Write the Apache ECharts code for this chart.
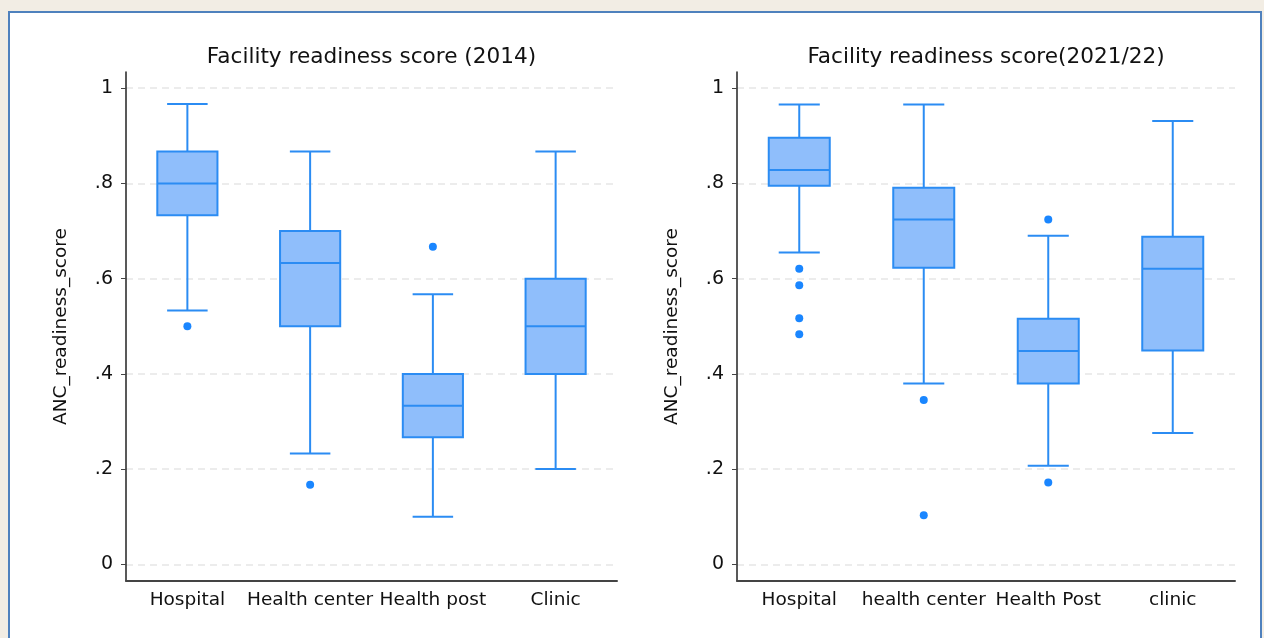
<!DOCTYPE html>
<html><head><meta charset="utf-8">
<script src="https://cdn.jsdelivr.net/npm/echarts@6/dist/echarts.min.js"></script>
<style>
html,body{margin:0;padding:0;width:1264px;height:638px;overflow:hidden;background:#f2ede4;}
#frame{position:absolute;left:8px;top:11px;width:1254px;height:640px;background:#fff;border:2px solid #4f81bd;box-sizing:border-box;}
#chart{position:absolute;left:0;top:0;width:1264px;height:638px;}
</style></head><body>
<div id="frame"></div><div id="chart"></div>
<script>
const categories2014 = ['Hospital', 'Health center', 'Health post', 'Clinic'];
const categories2021 = ['Hospital', 'health center', 'Health Post', 'clinic'];
// each row: [lower whisker, Q1, median, Q3, upper whisker]
const box2014 = [
  [0.533, 0.733, 0.800, 0.867, 0.967],
  [0.233, 0.500, 0.633, 0.700, 0.867],
  [0.100, 0.267, 0.333, 0.400, 0.567],
  [0.200, 0.400, 0.500, 0.600, 0.867]
];
const outliers2014 = [[0, 0.500], [1, 0.167], [2, 0.667]];
const box2021 = [
  [0.655, 0.795, 0.828, 0.896, 0.966],
  [0.380, 0.623, 0.724, 0.791, 0.966],
  [0.207, 0.380, 0.448, 0.516, 0.690],
  [0.276, 0.449, 0.621, 0.688, 0.931]
];
const outliers2021 = [[0, 0.621], [0, 0.586], [0, 0.517], [0, 0.483], [1, 0.345], [1, 0.103], [2, 0.724], [2, 0.172]];
const yTicks = [0, 0.2, 0.4, 0.6, 0.8, 1];
const yTickLabels = ['0', '.2', '.4', '.6', '.8', '1'];
const titles = ['Facility readiness score (2014)', 'Facility readiness score(2021/22)'];
const yName = 'ANC_readiness_score';

const FONT = "'DejaVu Sans', sans-serif";
const STROKE = '#2b8cf3';
const FILL = '#8fbefb';
const DOT = '#1a86ff';

function renderBox(params, api) {
  const x = api.value(0);
  const lo = api.coord([x, api.value(1)]);
  const q1 = api.coord([x, api.value(2)]);
  const med = api.coord([x, api.value(3)]);
  const q3 = api.coord([x, api.value(4)]);
  const hi = api.coord([x, api.value(5)]);
  const band = api.size([1, 0])[0];
  const bw = band * 0.49, cw = band * 0.33;
  const cx = lo[0];
  const ls = () => ({ stroke: STROKE, lineWidth: 2, fill: null });
  return {
    type: 'group',
    children: [
      { type: 'line', shape: { x1: cx, y1: hi[1], x2: cx, y2: q3[1] }, style: ls() },
      { type: 'line', shape: { x1: cx, y1: q1[1], x2: cx, y2: lo[1] }, style: ls() },
      { type: 'line', shape: { x1: cx - cw / 2, y1: hi[1], x2: cx + cw / 2, y2: hi[1] }, style: ls() },
      { type: 'line', shape: { x1: cx - cw / 2, y1: lo[1], x2: cx + cw / 2, y2: lo[1] }, style: ls() },
      { type: 'rect', shape: { x: cx - bw / 2, y: q3[1], width: bw, height: q1[1] - q3[1] }, style: { fill: FILL, stroke: STROKE, lineWidth: 2 } },
      { type: 'line', shape: { x1: cx - bw / 2, y1: med[1], x2: cx + bw / 2, y2: med[1] }, style: ls() }
    ]
  };
}

const grids = [
  { left: 126, top: 72, width: 491, height: 509 },
  { left: 737, top: 72, width: 498, height: 509 }
];

function xAxis(i, cats) {
  return {
    type: 'category', gridIndex: i, data: cats,
    axisLine: { onZero: false, lineStyle: { color: '#444', width: 2 } },
    axisTick: { show: false },
    axisLabel: { interval: 0, hideOverlap: false, fontSize: 18.5, color: '#111', fontFamily: FONT, margin: 10 },
    splitLine: { show: false }
  };
}
function yAxis(i) {
  return {
    type: 'value', gridIndex: i, min: -0.035, max: 1.034,
    name: yName, nameLocation: 'middle', nameGap: 55,
    nameTextStyle: { fontSize: 18.5, color: '#111', fontFamily: FONT },
    axisLine: { show: true, onZero: false, lineStyle: { color: '#222', width: 1.5 } },
    axisTick: { show: true, length: 5, customValues: yTicks, lineStyle: { color: '#444', width: 1 } },
    axisLabel: {
      customValues: yTicks, fontSize: 19, color: '#111', fontFamily: FONT, margin: 13,
      formatter: v => { const k = yTicks.findIndex(t => Math.abs(t - v) < 1e-6); return k >= 0 ? yTickLabels[k] : ''; }
    },
    splitLine: { show: false }
  };
}
function series(i, boxes, outs) {
  return [
    {
      type: 'scatter', xAxisIndex: i, yAxisIndex: i, z: 4,
      data: outs, symbolSize: 8, itemStyle: { color: DOT, opacity: 1 },
      markLine: {
        silent: true, symbol: 'none', label: { show: false }, z: 0,
        lineStyle: { type: [7, 5], color: '#e6e6e6', width: 1.5 },
        data: yTicks.map(v => ({ yAxis: v }))
      }
    },
    {
      type: 'custom', xAxisIndex: i, yAxisIndex: i, z: 3,
      renderItem: renderBox,
      encode: { x: 0, y: [1, 2, 3, 4, 5] },
      data: boxes.map((b, k) => [k].concat(b))
    }
  ];
}

const chart = echarts.init(document.getElementById('chart'), null, { renderer: 'canvas' });
chart.setOption({
  backgroundColor: 'transparent',
  animation: false,
  title: [0, 1].map(i => ({
    text: titles[i], left: grids[i].left + grids[i].width / 2, top: 46, padding: 0, textAlign: 'center',
    textStyle: { fontSize: 21.6, fontWeight: 'normal', color: '#111', fontFamily: FONT }
  })),
  grid: grids.map(g => Object.assign({ containLabel: false, outerBoundsMode: 'none' }, g)),
  xAxis: [xAxis(0, categories2014), xAxis(1, categories2021)],
  yAxis: [yAxis(0), yAxis(1)],
  series: series(0, box2014, outliers2014).concat(series(1, box2021, outliers2021))
});
</script>
</body></html>
